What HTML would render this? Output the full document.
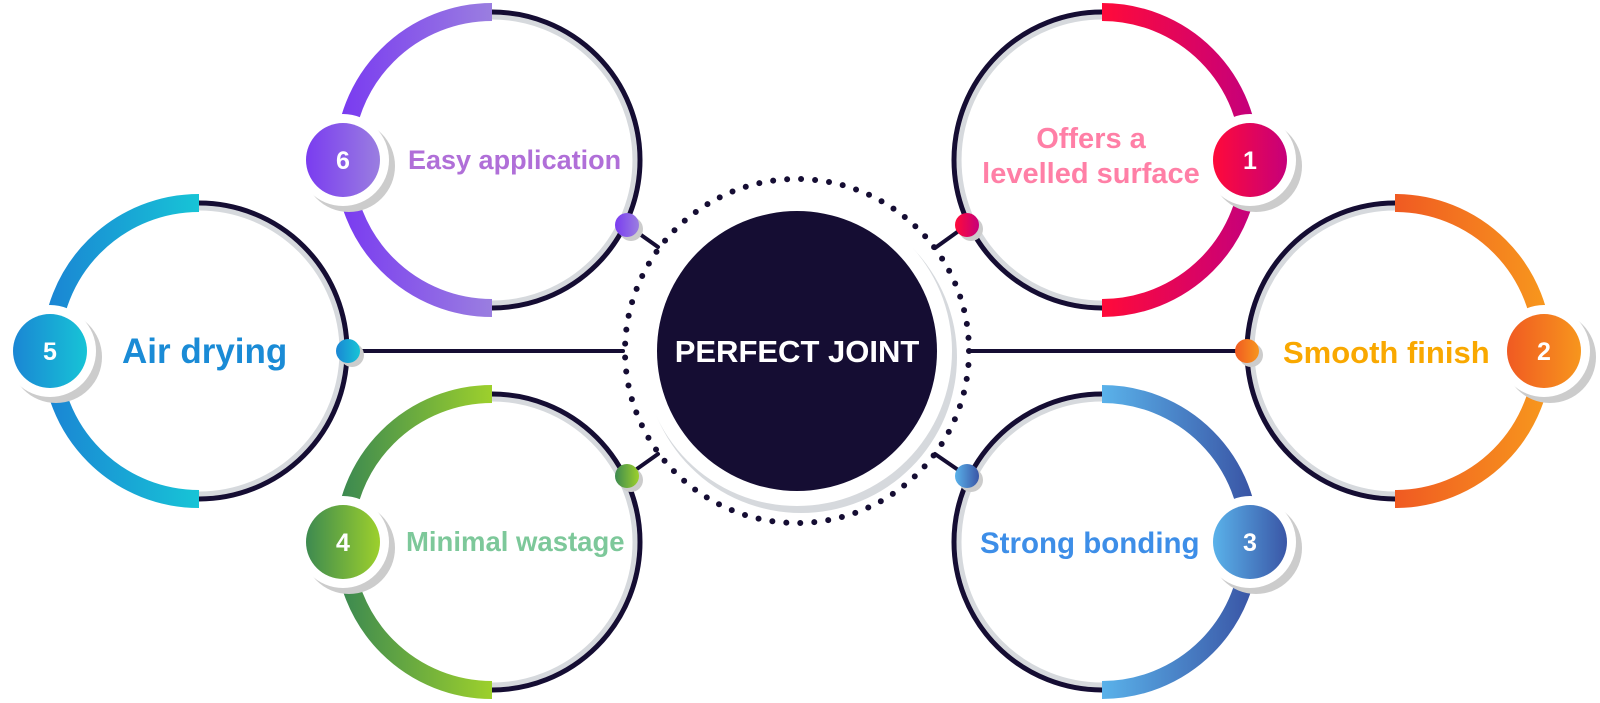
<!DOCTYPE html>
<html><head><meta charset="utf-8"><style>
html,body{margin:0;padding:0;background:#fff;}
svg{display:block;}
text{font-family:"Liberation Sans",sans-serif;font-weight:bold;}
</style></head><body>
<svg width="1600" height="703" viewBox="0 0 1600 703" xmlns="http://www.w3.org/2000/svg">
<defs>
<linearGradient id="g6" x1="0" y1="0" x2="1" y2="0"><stop offset="0" stop-color="#7a3cf0"/><stop offset="1" stop-color="#9a7ee0"/></linearGradient>
<linearGradient id="g5" x1="0" y1="0" x2="1" y2="0"><stop offset="0" stop-color="#1a86d4"/><stop offset="1" stop-color="#17c4d6"/></linearGradient>
<linearGradient id="g4" x1="0" y1="0" x2="1" y2="0"><stop offset="0" stop-color="#3d8a50"/><stop offset="1" stop-color="#9dd02c"/></linearGradient>
<linearGradient id="g1" x1="0" y1="0" x2="1" y2="0"><stop offset="0" stop-color="#ff0a3a"/><stop offset="1" stop-color="#c6007a"/></linearGradient>
<linearGradient id="g2" x1="0" y1="0" x2="1" y2="0"><stop offset="0" stop-color="#f05a22"/><stop offset="1" stop-color="#f7961d"/></linearGradient>
<linearGradient id="g3" x1="0" y1="0" x2="1" y2="0"><stop offset="0" stop-color="#5ab2ea"/><stop offset="1" stop-color="#3a56a6"/></linearGradient>
</defs>

<g stroke="#150d33" stroke-width="4" fill="none" stroke-linecap="round">
<line x1="348" y1="351" x2="623" y2="351"/>
<line x1="971" y1="351" x2="1247" y2="351"/>
<line x1="627" y1="225" x2="658" y2="247"/>
<line x1="967" y1="225" x2="935" y2="248"/>
<line x1="627" y1="476" x2="658" y2="454"/>
<line x1="967" y1="476" x2="935" y2="454"/>
</g>

<circle cx="797" cy="351" r="172" fill="none" stroke="#150d33" stroke-width="6" stroke-linecap="round" stroke-dasharray="0 14.04"/>
<circle cx="801" cy="357" r="156" fill="#d6d9dd"/>
<circle cx="797" cy="351" r="155" fill="#fff"/>
<circle cx="797" cy="351" r="140" fill="#150d33"/>
<text x="797" y="362" font-size="31" fill="#fff" text-anchor="middle">PERFECT JOINT</text>

<g>
<path d="M492 17 A143 143 0 0 1 492 303" fill="none" stroke="#d6d9dd" stroke-width="5"/>
<path d="M492 12 A148 148 0 0 1 492 308" fill="none" stroke="#150d33" stroke-width="5"/>
<path d="M492 12 A148 148 0 0 0 492 308" fill="none" stroke="url(#g6)" stroke-width="18"/>
<circle cx="349" cy="166" r="46" fill="#ccc"/><circle cx="343" cy="160" r="46" fill="#fff"/>
<circle cx="343" cy="160" r="37" fill="url(#g6)"/>
<text x="343" y="169" font-size="25" fill="#fff" text-anchor="middle">6</text>
<circle cx="631" cy="229" r="12" fill="#ccc"/><circle cx="627" cy="225" r="12" fill="url(#g6)"/>
<text x="408" y="169" font-size="27" fill="#b06fd8">Easy application</text>
</g>
<g>
<path d="M199 208 A143 143 0 0 1 199 494" fill="none" stroke="#d6d9dd" stroke-width="5"/>
<path d="M199 203 A148 148 0 0 1 199 499" fill="none" stroke="#150d33" stroke-width="5"/>
<path d="M199 203 A148 148 0 0 0 199 499" fill="none" stroke="url(#g5)" stroke-width="18"/>
<circle cx="56" cy="357" r="46" fill="#ccc"/><circle cx="50" cy="351" r="46" fill="#fff"/>
<circle cx="50" cy="351" r="37" fill="url(#g5)"/>
<text x="50" y="360" font-size="25" fill="#fff" text-anchor="middle">5</text>
<circle cx="352" cy="355" r="12" fill="#ccc"/><circle cx="348" cy="351" r="12" fill="url(#g5)"/>
<text x="122" y="363" font-size="35" fill="#1a8bd6">Air drying</text>
</g>
<g>
<path d="M492 399 A143 143 0 0 1 492 685" fill="none" stroke="#d6d9dd" stroke-width="5"/>
<path d="M492 394 A148 148 0 0 1 492 690" fill="none" stroke="#150d33" stroke-width="5"/>
<path d="M492 394 A148 148 0 0 0 492 690" fill="none" stroke="url(#g4)" stroke-width="18"/>
<circle cx="349" cy="548" r="46" fill="#ccc"/><circle cx="343" cy="542" r="46" fill="#fff"/>
<circle cx="343" cy="542" r="37" fill="url(#g4)"/>
<text x="343" y="551" font-size="25" fill="#fff" text-anchor="middle">4</text>
<circle cx="631" cy="480" r="12" fill="#ccc"/><circle cx="627" cy="476" r="12" fill="url(#g4)"/>
<text x="406" y="551" font-size="27.5" fill="#7dc89a">Minimal wastage</text>
</g>
<g>
<path d="M1102 17 A143 143 0 0 0 1102 303" fill="none" stroke="#d6d9dd" stroke-width="5"/>
<path d="M1102 12 A148 148 0 0 0 1102 308" fill="none" stroke="#150d33" stroke-width="5"/>
<path d="M1102 12 A148 148 0 0 1 1102 308" fill="none" stroke="url(#g1)" stroke-width="18"/>
<circle cx="1256" cy="166" r="46" fill="#ccc"/><circle cx="1250" cy="160" r="46" fill="#fff"/>
<circle cx="1250" cy="160" r="37" fill="url(#g1)"/>
<text x="1250" y="169" font-size="25" fill="#fff" text-anchor="middle">1</text>
<circle cx="971" cy="229" r="12" fill="#ccc"/><circle cx="967" cy="225" r="12" fill="url(#g1)"/>
<text x="1091" y="148" font-size="29" fill="#ff7fa6" text-anchor="middle">Offers a</text>
<text x="1091" y="183" font-size="29" fill="#ff7fa6" text-anchor="middle">levelled surface</text>
</g>
<g>
<path d="M1395 208 A143 143 0 0 0 1395 494" fill="none" stroke="#d6d9dd" stroke-width="5"/>
<path d="M1395 203 A148 148 0 0 0 1395 499" fill="none" stroke="#150d33" stroke-width="5"/>
<path d="M1395 203 A148 148 0 0 1 1395 499" fill="none" stroke="url(#g2)" stroke-width="18"/>
<circle cx="1550" cy="357" r="46" fill="#ccc"/><circle cx="1544" cy="351" r="46" fill="#fff"/>
<circle cx="1544" cy="351" r="37" fill="url(#g2)"/>
<text x="1544" y="360" font-size="25" fill="#fff" text-anchor="middle">2</text>
<circle cx="1251" cy="355" r="12" fill="#ccc"/><circle cx="1247" cy="351" r="12" fill="url(#g2)"/>
<text x="1283" y="363" font-size="31" fill="#f9a800">Smooth finish</text>
</g>
<g>
<path d="M1102 399 A143 143 0 0 0 1102 685" fill="none" stroke="#d6d9dd" stroke-width="5"/>
<path d="M1102 394 A148 148 0 0 0 1102 690" fill="none" stroke="#150d33" stroke-width="5"/>
<path d="M1102 394 A148 148 0 0 1 1102 690" fill="none" stroke="url(#g3)" stroke-width="18"/>
<circle cx="1256" cy="548" r="46" fill="#ccc"/><circle cx="1250" cy="542" r="46" fill="#fff"/>
<circle cx="1250" cy="542" r="37" fill="url(#g3)"/>
<text x="1250" y="551" font-size="25" fill="#fff" text-anchor="middle">3</text>
<circle cx="971" cy="480" r="12" fill="#ccc"/><circle cx="967" cy="476" r="12" fill="url(#g3)"/>
<text x="980" y="553" font-size="29.5" fill="#3d8ee8">Strong bonding</text>
</g>
</svg>
</body></html>
